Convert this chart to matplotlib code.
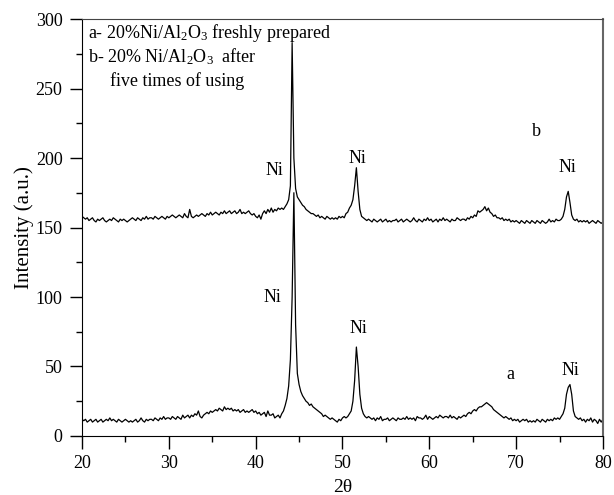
import numpy as np
import matplotlib
matplotlib.use('Agg')
import matplotlib.pyplot as plt

plt.rcParams['font.family'] = 'Liberation Serif'
plt.rcParams['mathtext.fontset'] = 'custom'
plt.rcParams['mathtext.rm'] = 'Liberation Serif'
plt.rcParams['mathtext.it'] = 'Liberation Serif:italic'

# 2theta sampled every 0.2 deg from 20 to 80
two_theta = np.round(np.arange(20, 80.001, 0.2), 1)

# b- 20% Ni/Al2O3 after five times of using
inten_b = [
    158, 157, 156, 157, 155,  156, 157, 155, 154, 156,  155, 156, 157, 155, 154,
    155, 156, 155, 157, 156,  155, 154, 156, 155, 156,  155, 154, 155, 156, 157,
    156, 155, 157, 156, 155,  157, 156, 158, 156, 157,  157, 156, 158, 157, 156,
    157, 158, 157, 156, 158,  157, 158, 159, 158, 157,  158, 159, 158, 157, 160,
    158, 157, 163, 158, 157,  158, 159, 158, 159, 160,  159, 158, 160, 159, 161,
    159, 160, 161, 160, 159,  161, 160, 162, 160, 161,  162, 160, 161, 162, 160,
    161, 163, 160, 161, 160,  161, 162, 160, 159, 160,  158, 157, 159, 156, 160,
    162, 160, 163, 161, 164,  161, 163, 162, 164, 163,  164, 163, 165, 167, 170,
    180, 283, 200, 178, 172,  170, 168, 166, 165, 163,  162, 161, 160, 160, 159,
    158, 159, 157, 158, 157,  156, 158, 157, 156, 157,  156, 157, 156, 158, 157,
    158, 157, 160, 161, 164,  166, 170, 180, 193, 176,  163, 158, 157, 156, 155,
    156, 155, 154, 156, 155,  154, 155, 156, 154, 155,  156, 154, 155, 154, 155,
    155, 156, 154, 155, 156,  154, 155, 156, 155, 154,  155, 157, 155, 154, 156,
    155, 154, 156, 155, 157,  155, 156, 154, 155, 156,  154, 156, 155, 157, 155,
    156, 155, 154, 156, 155,  155, 157, 156, 155, 156,  156, 155, 157, 156, 158,
    157, 159, 158, 162, 161,  162, 163, 165, 162, 164,  161, 160, 158, 159, 157,
    157, 156, 157, 155, 156,  155, 156, 154, 155, 154,  155, 154, 153, 155, 154,
    153, 155, 154, 153, 155,  154, 153, 155, 154, 153,  155, 154, 153, 154, 156,
    154, 155, 154, 156, 155,  155, 156, 158, 163, 172,  176, 168, 159, 156, 155,
    156, 154, 155, 154, 155,  154, 155, 153, 154, 155,  154, 153, 155, 154, 153,
    154]

# a- 20% Ni/Al2O3 freshly prepared
inten_a = [
    12, 11, 12, 10, 11,  12, 10, 11, 12, 10,  11, 12, 10, 11, 12,
    11, 13, 11, 12, 11,  10, 12, 11, 10, 11,  12, 11, 10, 11, 10,
    11, 12, 10, 11, 13,  11, 10, 12, 11, 12,  12, 11, 13, 12, 11,
    13, 12, 14, 12, 13,  13, 12, 14, 13, 12,  14, 13, 12, 15, 13,
    14, 15, 13, 15, 14,  16, 15, 18, 14, 13,  15, 16, 17, 16, 18,
    17, 18, 19, 18, 20,  19, 18, 21, 19, 20,  19, 20, 18, 19, 18,
    19, 17, 18, 19, 17,  18, 17, 18, 19, 17,  18, 16, 17, 15, 16,
    17, 14, 18, 15, 15,  16, 13, 14, 15, 13,  16, 18, 22, 27, 36,
    55, 100, 175, 80, 45,  37, 32, 29, 27, 25,  24, 22, 23, 21, 20,
    19, 18, 17, 16, 14,  15, 14, 13, 12, 13,  12, 11, 10, 12, 11,
    13, 14, 13, 14, 16,  18, 25, 40, 64, 50,  30, 20, 16, 14, 13,
    14, 13, 12, 13, 11,  13, 12, 14, 11, 12,  12, 13, 11, 12, 13,
    12, 11, 13, 12, 12,  13, 12, 14, 12, 13,  12, 13, 11, 14, 13,
    13, 12, 13, 15, 12,  14, 13, 12, 13, 14,  13, 15, 14, 13, 14,
    14, 13, 15, 13, 14,  13, 12, 14, 13, 14,  15, 14, 16, 17, 16,
    18, 19, 18, 20, 21,  21, 22, 23, 24, 23,  22, 21, 19, 18, 17,
    16, 15, 14, 13, 14,  13, 12, 13, 11, 12,  11, 12, 10, 11, 12,
    11, 12, 10, 11, 10,  11, 10, 12, 11, 10,  12, 11, 10, 12, 11,
    12, 11, 13, 12, 13,  12, 14, 16, 20, 30,  35, 37, 30, 18, 14,
    13, 12, 13, 11, 12,  10, 12, 11, 13, 10,  12, 11, 9, 12, 10,
    12]

# peak labels (x, y, text)
labels_x = [42.2, 51.7, 75.9, 41.9, 51.8, 76.3, 72.3, 69.3]
labels_y = [191, 200, 193, 100, 77, 47, 219, 44]
labels_txt = ['Ni', 'Ni', 'Ni', 'Ni', 'Ni', 'Ni', 'b', 'a']

fig = plt.figure(figsize=(6.14, 4.95), dpi=100)
ax = fig.add_axes([0.1336, 0.1192, 0.8484, 0.8424])

ax.plot(two_theta, inten_b, color='black', lw=0.9)
ax.plot(two_theta, inten_a, color='black', lw=0.9)

for x, y, s in zip(labels_x, labels_y, labels_txt):
    ax.text(x, y, s, fontsize=13, ha='center', va='center')

ax.text(0.011, 0.966, 'a- 20%Ni/Al$_2$O$_3$ freshly prepared', transform=ax.transAxes,
        fontsize=13, va='center')
ax.text(0.011, 0.909, 'b- 20% Ni/Al$_2$O$_3$  after', transform=ax.transAxes,
        fontsize=13, va='center')
ax.text(0.053, 0.851, 'five times of using', transform=ax.transAxes,
        fontsize=13, va='center')

ax.set_xlim(20, 80)
ax.set_ylim(0, 300)
ax.set_xticks(np.arange(20, 81, 10))
ax.set_xticks(np.arange(25, 80, 10), minor=True)
ax.set_yticks(np.arange(0, 301, 50))
ax.set_yticks(np.arange(25, 300, 50), minor=True)
ax.tick_params(direction='out', length=9, width=1, pad=5, labelsize=13, top=False, right=False)
ax.tick_params(which='minor', direction='out', length=4.5, width=1, top=False, right=False)
ax.spines['top'].set_color('#444444')
ax.spines['right'].set_color('#666666')
ax.spines['right'].set_linewidth(1.5)

ax.set_xlabel('2θ', fontsize=14, labelpad=5)
ax.set_ylabel('Intensity (a.u.)', fontsize=15, labelpad=1)

fig.savefig('out.png', dpi=100)
